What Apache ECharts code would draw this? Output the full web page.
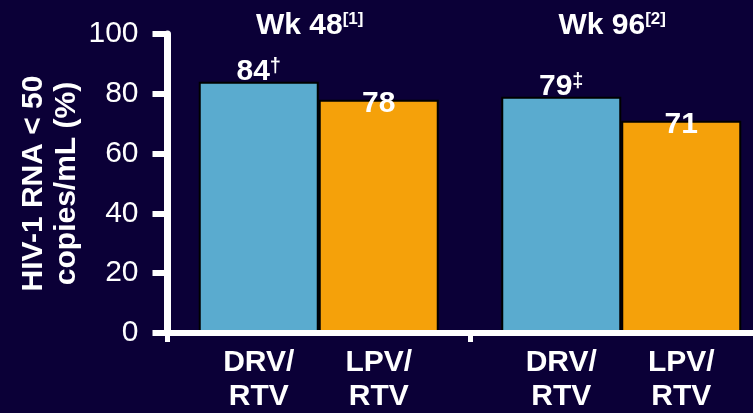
<!DOCTYPE html>
<html>
<head>
<meta charset="utf-8">
<title>HIV-1 RNA &lt; 50 copies/mL</title>
<script src="https://cdn.jsdelivr.net/npm/echarts@6/dist/echarts.min.js"></script>
<style>
  html, body { margin: 0; padding: 0; background: #0b0037; }
  #chart { width: 753px; height: 413px; }
</style>
</head>
<body>
<div id="chart"></div>
<script>
// Study time points and their reference markers
const timePoints = ['Wk 48', 'Wk 96'];
const timeRefs = ['[1]', '[2]'];

// Treatment arms (one bar per arm in each time point)
const armNames = ['DRV/\nRTV', 'LPV/\nRTV'];

// Percent of patients with HIV-1 RNA < 50 copies/mL
const drvValues = [84, 79];
const lpvValues = [78, 71];
const drvMarks = ['†', '‡'];
const lpvMarks = ['', ''];

// Y axis scale
const yMin = 0;
const yMax = 100;
const yStep = 20;
const yTitle = 'HIV-1 RNA < 50\ncopies/mL (%)';

const FONT = '"Liberation Sans", Arial, Helvetica, sans-serif';
const WHITE = '#ffffff';
const BAR_W = 120;

const chart = echarts.init(document.getElementById('chart'), null, { renderer: 'canvas' });

function valueLabel(marks, distance) {
  return {
    show: true,
    position: 'top',
    distance: distance,
    formatter: p => '{v|' + p.value + '}' + (marks[p.dataIndex] ? '{s|' + marks[p.dataIndex] + '}' : ''),
    rich: {
      v: { color: WHITE, fontFamily: FONT, fontWeight: 'bold', fontSize: 30, lineHeight: 30 },
      s: { color: WHITE, fontFamily: FONT, fontWeight: 'bold', fontSize: 20, lineHeight: 20, verticalAlign: 'top' }
    }
  };
}

// Two arm names, one centred under each bar of a group
const armRow = (i) => armNames.map(n => '{c|' + n.split('\n')[i] + '}').join('');

chart.setOption({
  animation: false,
  backgroundColor: '#0b0037',
  grid: { left: 167.5, right: -19.5, top: 34, bottom: 80, outerBoundsMode: 'none', containLabel: false },
  xAxis: [
    {
      type: 'category',
      position: 'bottom',
      data: timePoints,
      z: 10,
      axisLine: { show: true, lineStyle: { color: WHITE, width: 6 } },
      axisTick: { show: true, length: 9, lineStyle: { color: WHITE, width: 5 } },
      axisLabel: {
        interval: 0,
        margin: 13,
        formatter: () => armRow(0) + '\n' + armRow(1),
        rich: {
          c: { width: BAR_W, align: 'center', color: WHITE, fontFamily: FONT, fontWeight: 'bold', fontSize: 30, lineHeight: 34 }
        }
      },
      splitLine: { show: false }
    },
    {
      type: 'category',
      position: 'top',
      data: timePoints,
      axisLine: { show: false },
      axisTick: { show: false },
      axisLabel: {
        interval: 0,
        margin: -7,
        padding: [0, 18, 0, 0],
        formatter: (v, i) => '{t|' + v + '}{r|' + timeRefs[i] + '}',
        rich: {
          t: { color: WHITE, fontFamily: FONT, fontWeight: 'bold', fontSize: 30, lineHeight: 30 },
          r: { color: WHITE, fontFamily: FONT, fontWeight: 'bold', fontSize: 17, lineHeight: 17, verticalAlign: 'top' }
        }
      },
      splitLine: { show: false }
    }
  ],
  yAxis: {
    type: 'value',
    min: yMin,
    max: yMax,
    interval: yStep,
    z: 10,
    name: yTitle,
    nameLocation: 'middle',
    nameGap: 84,
    nameRotate: 90,
    nameMoveOverlap: false,
    nameTextStyle: { color: WHITE, fontFamily: FONT, fontWeight: 'bold', fontSize: 30, lineHeight: 33, align: 'center' },
    axisLine: { show: true, lineStyle: { color: WHITE, width: 7 } },
    axisTick: { show: true, length: 15, lineStyle: { color: WHITE, width: 6 } },
    axisLabel: { color: WHITE, fontFamily: FONT, fontSize: 30, margin: 29 },
    splitLine: { show: false }
  },
  series: [
    {
      name: 'DRV/RTV',
      type: 'bar',
      data: drvValues,
      barWidth: BAR_W,
      barGap: '0%',
      itemStyle: { color: '#5aabcf', borderColor: '#000000', borderWidth: 2 },
      label: valueLabel(drvMarks, -5)
    },
    {
      name: 'LPV/RTV',
      type: 'bar',
      data: lpvValues,
      barWidth: BAR_W,
      barGap: '0%',
      itemStyle: { color: '#f5a10a', borderColor: '#000000', borderWidth: 2 },
      label: valueLabel(lpvMarks, -19)
    }
  ]
});
</script>
</body>
</html>
